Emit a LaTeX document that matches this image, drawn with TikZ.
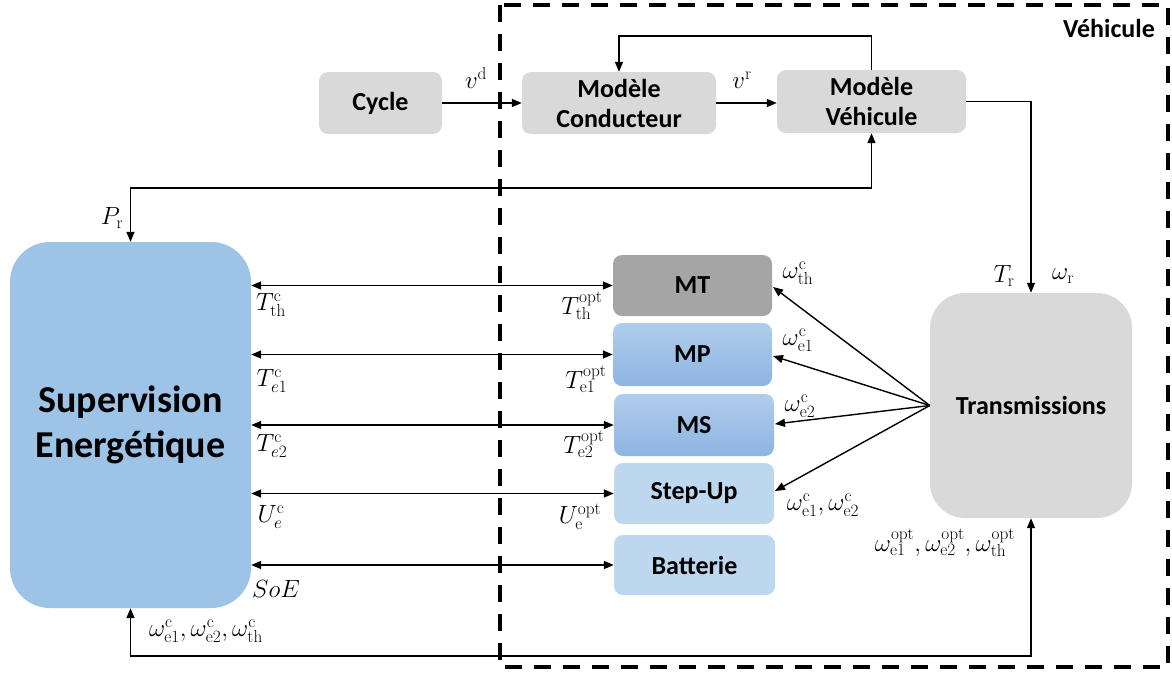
\documentclass[tikz,border=0pt]{standalone}
\usepackage[no-math]{fontspec}
\setmainfont{Carlito}
\usetikzlibrary{arrows.meta,calc}
\definecolor{boxgray}{HTML}{D9D9D9}
\definecolor{mtgray}{HTML}{A5A5A5}
\definecolor{supblue}{HTML}{9DC3E6}
\definecolor{lightblue}{HTML}{BDD7EE}
\definecolor{gradtop}{HTML}{B0CDEB}
\definecolor{gradbot}{HTML}{8EB4E3}
\tikzset{
  blk/.style={rounded corners=9pt, inner sep=0pt, align=center,
    font=\fontsize{26}{30}\selectfont\bfseries},
  graybox/.style={blk, fill=boxgray},
  bluebox/.style={blk, fill=lightblue},
  shadebox/.style={blk, top color=gradtop, bottom color=gradbot},
  arr/.style={-{Triangle[length=10pt,width=8pt]}, line width=1.4pt},
  darr/.style={{Triangle[length=10pt,width=8pt]}-{Triangle[length=10pt,width=8pt]}, line width=1.4pt},
  lab/.style={inner sep=0pt, font=\fontsize{24}{28}\selectfont},
}
\begin{document}
\begin{tikzpicture}[x=1pt,y=-1pt]
\useasboundingbox (0,0) rectangle (1172,675);
% vehicle frame
\draw[line width=4pt, dash pattern=on 17pt off 12pt] (500,5) rectangle (1168,667);
\node[inner sep=0pt, font=\fontsize{26}{30}\selectfont\bfseries] (vehlab) at (1109,28) {Véhicule};

% blocks
\node[graybox, minimum width=123pt, minimum height=62pt] (cycle) at (380.5,103) {Cycle};
\node[graybox, minimum width=194pt, minimum height=62pt] (cond) at (619,103) {Modèle\\Conducteur};
\node[graybox, minimum width=189pt, minimum height=63pt] (veh) at (871.5,101.5) {Modèle\\Véhicule};
\node[blk, fill=supblue, rounded corners=40pt, minimum width=241pt, minimum height=366pt,
      font=\fontsize{38}{45}\selectfont\bfseries] (sup) at (130.5,425) {Supervision\\Energétique};
\node[blk, fill=mtgray, minimum width=159pt, minimum height=61pt] (mt) at (692.5,285.5) {MT};
\node[shadebox, minimum width=159pt, minimum height=63pt] (mp) at (692.5,354.5) {MP};
\node[shadebox, minimum width=160pt, minimum height=62pt] (ms) at (694,425) {MS};
\node[bluebox, minimum width=160pt, minimum height=61pt] (su) at (694,493.5) {Step-Up};
\node[bluebox, minimum width=161pt, minimum height=60pt] (bat) at (694.5,565) {Batterie};
\node[graybox, rounded corners=35pt, minimum width=202pt, minimum height=225pt] (trans) at (1031,405.5) {Transmissions};

% top chain
\draw[arr] (cycle.east) -- (cond.west);
\draw[arr] (cond.east) -- (cond.east -| veh.west);
\coordinate (fb) at (871.5,36);
\draw[arr] (veh.north) -- (fb) -| (cond.north);
\draw[arr] (veh.east) -| (trans.north);
\coordinate (pr) at (130.5,188);
\draw[darr] (sup.north) -- (pr) -| (veh.south);

% supervision links
\draw[darr] (sup.east |- mt.west) -- (mt.west);
\draw[darr] (sup.east |- mp.west) -- (mp.west);
\draw[darr] (sup.east |- ms.west) -- (ms.west);
\draw[darr] (sup.east |- su.west) -- (su.west);
\draw[darr] (sup.east |- bat.west) -- (bat.west);

% fan from transmissions
\draw[arr] (trans.west) -- (773,287);
\draw[arr] (trans.west) -- (773,356);
\draw[arr] (trans.west) -- (775,424);
\draw[arr] (trans.west) -- (775,491);

% bottom loop
\coordinate (bot) at (1031,656);
\draw[darr] (trans.south) -- (bot) -| (sup.south);

% labels
\node[lab] (lvd) at (476,78) {$v^{\mathrm{d}}$};
\node[lab] (lvr) at (742,80) {$v^{\mathrm{r}}$};
\node[lab] (lpr) at (112,218) {$P_{\mathrm{r}}$};
\node[lab] (ltr) at (1004,276) {$T_{\mathrm{r}}$};
\node[lab] (lwr) at (1063,276) {$\omega_{\mathrm{r}}$};
\node[lab] (ltthc) at (271,305) {$T_{\mathrm{th}}^{\mathrm{c}}$};
\node[lab] (lte1c) at (272,381) {$T_{e1}^{\mathrm{c}}$};
\node[lab] (lte2c) at (272,446) {$T_{e2}^{\mathrm{c}}$};
\node[lab] (luec) at (271,517) {$U_{e}^{\mathrm{c}}$};
\node[lab] (lsoe) at (276,589) {$SoE$};
\node[lab] (ltthopt) at (582,306) {$T_{\mathrm{th}}^{\mathrm{opt}}$};
\node[lab] (lte1opt) at (586,379) {$T_{\mathrm{e1}}^{\mathrm{opt}}$};
\node[lab] (lte2opt) at (584,444) {$T_{\mathrm{e2}}^{\mathrm{opt}}$};
\node[lab] (lueopt) at (580,517) {$U_{\mathrm{e}}^{\mathrm{opt}}$};
\node[lab] (lwthc) at (798,273) {$\omega_{\mathrm{th}}^{\mathrm{c}}$};
\node[lab] (lwe1c) at (798,340) {$\omega_{\mathrm{e1}}^{\mathrm{c}}$};
\node[lab] (lwe2c) at (800,406) {$\omega_{\mathrm{e2}}^{\mathrm{c}}$};
\node[lab] (lwe12c) at (823,505) {$\omega_{\mathrm{e1}}^{\mathrm{c}},\omega_{\mathrm{e2}}^{\mathrm{c}}$};
\node[lab] (lwopt) at (945,543) {$\omega_{\mathrm{e1}}^{\mathrm{opt}},\omega_{\mathrm{e2}}^{\mathrm{opt}},\omega_{\mathrm{th}}^{\mathrm{opt}}$};
\node[lab] (lwc) at (206,631) {$\omega_{\mathrm{e1}}^{\mathrm{c}},\omega_{\mathrm{e2}}^{\mathrm{c}},\omega_{\mathrm{th}}^{\mathrm{c}}$};
\end{tikzpicture}
\end{document}
